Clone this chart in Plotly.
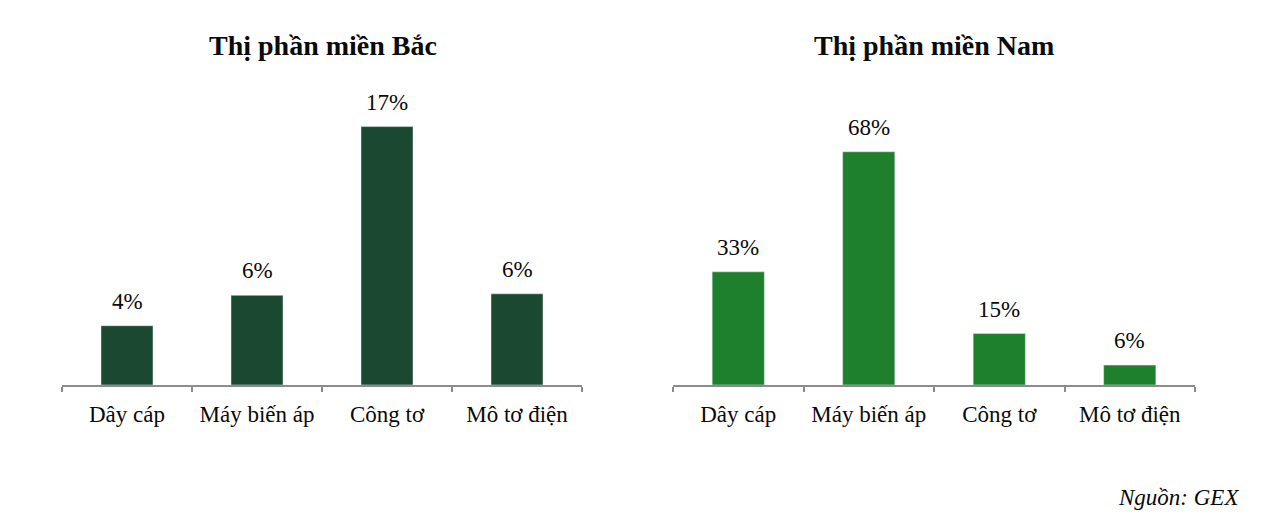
import plotly.graph_objects as go

categories = ["Dây cáp", "Máy biến áp", "Công tơ", "Mô tơ điện"]
north_values = [3.9, 5.9, 17.0, 6.0]
south_values = [33.0, 68.0, 15.0, 5.8]
north_title = "Thị phần miền Bắc"
south_title = "Thị phần miền Nam"
source_text = "Nguồn: GEX"

OFF = 8  # page body margin
W, H = 1280 - 2 * OFF, 531 - 2 * OFF
FONT = "Liberation Serif, Times New Roman, serif"
north_color = "#1a4830"
south_color = "#1e7f2c"

def px_x(p):
    return (p - OFF) / W

def px_y(p):
    return 1 - (p - OFF) / H

fig = go.Figure()
fig.add_trace(go.Bar(x=categories, y=north_values, marker_color=north_color,
                     width=0.4, xaxis="x", yaxis="y", hoverinfo="skip"))
fig.add_trace(go.Bar(x=categories, y=south_values, marker_color=south_color,
                     width=0.4, xaxis="x2", yaxis="y2", hoverinfo="skip"))

annotations = []
for xa, ya, vals in (("x", "y", north_values), ("x2", "y2", south_values)):
    for c, v in zip(categories, vals):
        annotations.append(dict(x=c, y=v, xref=xa, yref=ya, text=f"{v:.0f}%",
                                showarrow=False, yanchor="bottom", yshift=10,
                                font=dict(family=FONT, size=23, color="#0a0a0a")))

annotations.append(dict(x=px_x((63 + 582) / 2), y=px_y(45), xref="paper", yref="paper",
                        text=f"<b>{north_title}</b>", showarrow=False, yanchor="middle",
                        xanchor="center",
                        font=dict(family=FONT, size=28, color="#0a0a0a")))
annotations.append(dict(x=px_x((673 + 1195) / 2), y=px_y(45), xref="paper", yref="paper",
                        text=f"<b>{south_title}</b>", showarrow=False, yanchor="middle",
                        xanchor="center",
                        font=dict(family=FONT, size=28, color="#0a0a0a")))
annotations.append(dict(x=px_x(1241), y=px_y(497), xref="paper", yref="paper",
                        text=f"<i>{source_text}</i>", showarrow=False, xanchor="right",
                        yanchor="middle",
                        font=dict(family=FONT, size=23, color="#0a0a0a")))

xcommon = dict(type="category", range=[-0.5, 3.5], showline=True, linecolor="#8c8c8c",
               linewidth=1.5, ticks="outside", tickson="boundaries", ticklen=5,
               tickcolor="#8c8c8c", tickwidth=1.5, showgrid=False, zeroline=False,
               tickfont=dict(family=FONT, size=23, color="#0a0a0a"), ticklabelstandoff=8)
ycommon = dict(visible=False, showgrid=False, zeroline=False,
               domain=[px_y(385), px_y(100)])

fig.update_layout(
    width=W, height=H,
    margin=dict(l=0, r=0, t=0, b=0),
    paper_bgcolor="white", plot_bgcolor="white",
    showlegend=False,
    xaxis=dict(domain=[px_x(62), px_x(582)], anchor="y", **xcommon),
    xaxis2=dict(domain=[px_x(673), px_x(1195)], anchor="y2", **xcommon),
    yaxis=dict(range=[0, 285 / 15.2], anchor="x", **ycommon),
    yaxis2=dict(range=[0, 285 / 3.43], anchor="x2", **ycommon),
    annotations=annotations,
)

fig.write_html("out.html")
